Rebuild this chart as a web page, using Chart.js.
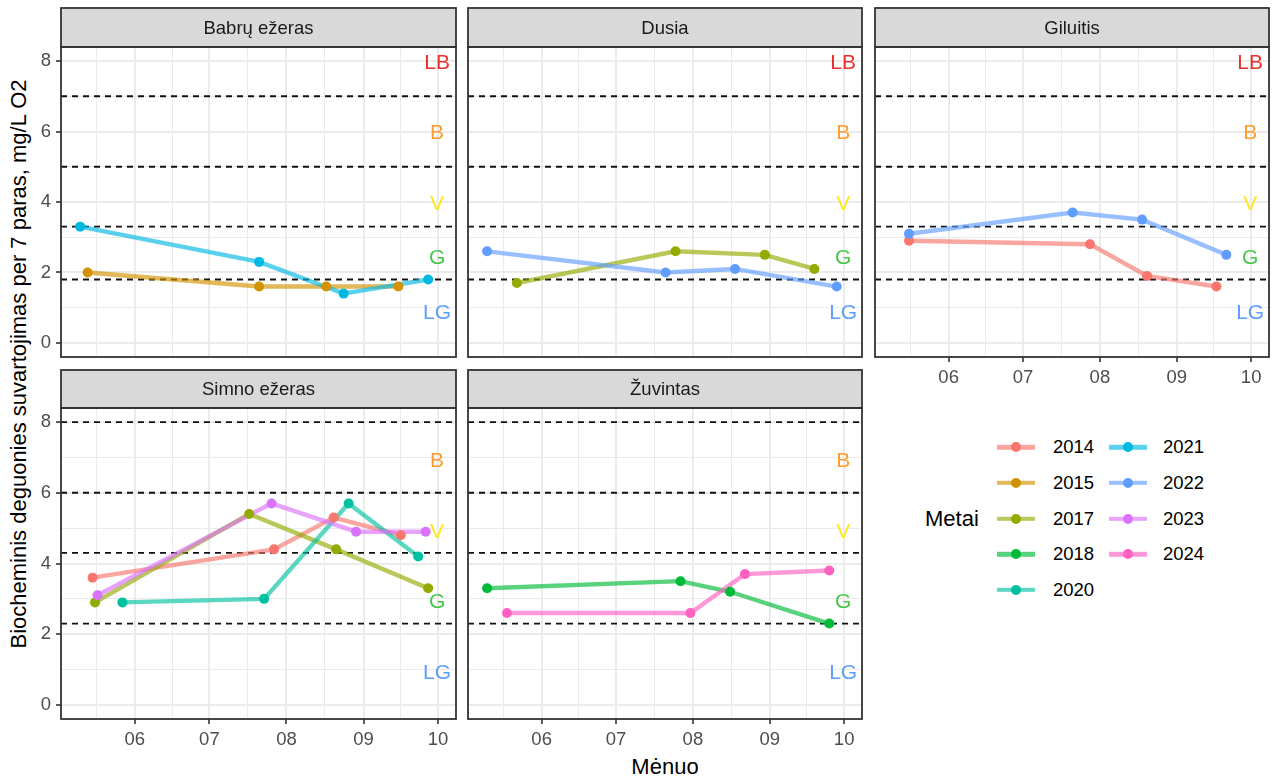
<!DOCTYPE html>
<html>
<head>
<meta charset="utf-8">
<script src="https://cdn.jsdelivr.net/npm/chart.js@4.4.1/dist/chart.umd.min.js"></script>
<style>
  body { margin: 0; background: #fff; font-family: "Liberation Sans", Arial, sans-serif; }
  #wrap { position: relative; width: 1272px; height: 776px; overflow: hidden; }
  #wrap canvas { position: absolute; }
  .axis-title { position: absolute; font-size: 22px; color: #000; white-space: nowrap; transform: translate(-50%, -50%); }
  .legend-title { position: absolute; font-size: 22px; color: #000; transform: translateY(-50%); }
  .legend-text { position: absolute; font-size: 18.5px; color: #000; transform: translateY(-50%); }
  .key-line { position: absolute; width: 38px; height: 4.4px; transform: translateY(-50%); }
  .key-dot { position: absolute; width: 10px; height: 10px; border-radius: 50%; transform: translate(-50%, -50%); }
</style>
</head>
<body>
<div id="wrap">
  <div class="axis-title" style="left:19px; top:364px; transform: translate(-50%, -50%) rotate(-90deg);">Biocheminis deguonies suvartojimas per 7 paras, mg/L O2</div>
  <div class="axis-title" style="left:665px; top:767px;">Mėnuo</div>
</div>
<script>
// month ticks (day of year, non-leap) and their labels
const monthDays = [152, 182, 213, 244, 274];
const monthLabels = ['06', '07', '08', '09', '10'];
const yLabels = ['0', '2', '4', '6', '8'];

const years = ['2014', '2015', '2017', '2018', '2020', '2021', '2022', '2023', '2024'];
const yearColors = ['#F8766D', '#D39200', '#93AA00', '#00BA38', '#00C19F', '#00B9E3', '#619CFF', '#DB72FB', '#FF61C3'];

// class limits, deep lakes (top row) and shallow lakes (bottom row)
const limitsTop = [1.8, 3.3, 5, 7];
const limitsBottom = [2.3, 4.3, 6, 8];
const classNames = ['LB', 'B', 'V', 'G', 'LG'];
const classColors = ['#E8302E', '#FF9A2E', '#FFE81A', '#45C84A', '#5C9EFF'];
const classYTop = [8, 6, 4, 2.45, 0.9];
const classYBottom = [null, 6.95, 4.95, 2.95, 0.95];

// measurements: dates (MM-DD) and BDS7 values
const babrai2015Dates = ['05-13', '07-21', '08-17', '09-15'];
const babrai2015 = [2.0, 1.6, 1.6, 1.6];
const babrai2021Dates = ['05-10', '07-21', '08-24', '09-27'];
const babrai2021 = [3.3, 2.3, 1.4, 1.8];

const dusia2017Dates = ['05-22', '07-25', '08-30', '09-19'];
const dusia2017 = [1.7, 2.6, 2.5, 2.1];
const dusia2022Dates = ['05-10', '07-21', '08-18', '09-28'];
const dusia2022 = [2.6, 2.0, 2.1, 1.6];

const giluitis2014Dates = ['05-16', '07-28', '08-20', '09-17'];
const giluitis2014 = [2.9, 2.8, 1.9, 1.6];
const giluitis2022Dates = ['05-16', '07-21', '08-18', '09-21'];
const giluitis2022 = [3.1, 3.7, 3.5, 2.5];

const simnas2014Dates = ['05-15', '07-27', '08-20', '09-16'];
const simnas2014 = [3.6, 4.4, 5.3, 4.8];
const simnas2017Dates = ['05-16', '07-17', '08-21', '09-27'];
const simnas2017 = [2.9, 5.4, 4.4, 3.3];
const simnas2020Dates = ['05-27', '07-23', '08-26', '09-23'];
const simnas2020 = [2.9, 3.0, 5.7, 4.2];
const simnas2023Dates = ['05-17', '07-26', '08-29', '09-26'];
const simnas2023 = [3.1, 5.7, 4.9, 4.9];

const zuvintas2018Dates = ['05-10', '07-27', '08-16', '09-25'];
const zuvintas2018 = [3.3, 3.5, 3.2, 2.3];
const zuvintas2024Dates = ['05-18', '07-31', '08-22', '09-25'];
const zuvintas2024 = [2.6, 2.6, 3.7, 3.8];

const panels = [
  { name: 'Babrų ežeras', col: 0, row: 0, xTicks: false, yTicks: true,
    series: [['2015', babrai2015Dates, babrai2015], ['2021', babrai2021Dates, babrai2021]] },
  { name: 'Dusia', col: 1, row: 0, xTicks: false, yTicks: false,
    series: [['2017', dusia2017Dates, dusia2017], ['2022', dusia2022Dates, dusia2022]] },
  { name: 'Giluitis', col: 2, row: 0, xTicks: true, yTicks: false,
    series: [['2014', giluitis2014Dates, giluitis2014], ['2022', giluitis2022Dates, giluitis2022]] },
  { name: 'Simno ežeras', col: 0, row: 1, xTicks: true, yTicks: true,
    series: [['2014', simnas2014Dates, simnas2014], ['2017', simnas2017Dates, simnas2017],
             ['2020', simnas2020Dates, simnas2020], ['2023', simnas2023Dates, simnas2023]] },
  { name: 'Žuvintas', col: 1, row: 1, xTicks: true, yTicks: false,
    series: [['2018', zuvintas2018Dates, zuvintas2018], ['2024', zuvintas2024Dates, zuvintas2024]] }
];

// facet grid geometry
const colLeft = [61, 468, 875];
const colRight = [457, 863, 1270];
const stripTop = [8, 370];
const panelTop = [47, 408];
const panelBottom = [357, 719];
const AX_W = 50, AX_H = 34;
const X_MIN = 122.3, X_MAX = 281.2;
const Y_MIN = -0.4, Y_MAX = 8.4;

const FONT = '"Liberation Sans", Arial, sans-serif';
Chart.defaults.font.family = FONT;

const cumDays = [0, 31, 59, 90, 120, 151, 181, 212, 243, 273, 304, 334];
const dayOfYear = s => {
  const [m, d] = s.split('-').map(Number);
  return cumDays[m - 1] + d;
};

// minor grid halfway between month starts
const monthStarts = [121, ...monthDays, 305];
const xGrid = [];
for (let i = 0; i < monthStarts.length - 1; i++) {
  const mid = (monthStarts[i] + monthStarts[i + 1]) / 2;
  if (mid > X_MIN && mid < X_MAX) xGrid.push(mid);
  if (i < monthStarts.length - 2) xGrid.push(monthStarts[i + 1]);
}
xGrid.sort((a, b) => a - b);
const isMonth = v => monthDays.includes(v);

const hexA = (hex, a) => {
  const n = parseInt(hex.slice(1), 16);
  return `rgba(${(n >> 16) & 255},${(n >> 8) & 255},${n & 255},${a})`;
};

const wrap = document.getElementById('wrap');

function makePanel(p) {
  const left = colLeft[p.col], right = colRight[p.col];
  const sTop = stripTop[p.row], top = panelTop[p.row], bottom = panelBottom[p.row];
  const limits = p.row === 0 ? limitsTop : limitsBottom;
  const classY = p.row === 0 ? classYTop : classYBottom;

  const cv = document.createElement('canvas');
  const w = AX_W + (right - left) + 4;
  const h = (bottom - sTop + 1) + AX_H;
  cv.width = w; cv.height = h;
  cv.style.width = w + 'px'; cv.style.height = h + 'px';
  cv.style.left = (left - AX_W) + 'px';
  cv.style.top = (sTop - 1) + 'px';
  wrap.appendChild(cv);

  const datasets = [];
  p.series.forEach(([year, dates, vals]) => {
    const idx = years.indexOf(year);
    const pts = dates.map((d, i) => ({ x: dayOfYear(d), y: vals[i] }));
    datasets.push({ data: pts, borderColor: hexA(yearColors[idx], 0.65), borderWidth: 4.4,
      pointRadius: 0, tension: 0, order: 100 - idx });
    datasets.push({ data: pts, showLine: false, pointRadius: 5, pointBackgroundColor: yearColors[idx],
      pointBorderWidth: 0, order: 50 - idx });
  });

  const decor = {
    id: 'decor',
    beforeDatasetsDraw(chart) {
      const { ctx, chartArea: a, scales: { y } } = chart;
      ctx.save();
      ctx.strokeStyle = '#111111';
      ctx.lineWidth = 1.9;
      ctx.setLineDash([6, 5]);
      limits.forEach(v => {
        const py = y.getPixelForValue(v);
        ctx.beginPath();
        ctx.moveTo(a.left, py);
        ctx.lineTo(a.right, py);
        ctx.stroke();
      });
      ctx.restore();
    },
    afterDatasetsDraw(chart) {
      const { ctx, scales: { x, y } } = chart;
      ctx.save();
      ctx.font = '21px ' + FONT;
      ctx.textAlign = 'center';
      ctx.textBaseline = 'middle';
      classNames.forEach((c, i) => {
        if (classY[i] == null || classY[i] > Y_MAX) return;
        ctx.fillStyle = classColors[i];
        ctx.fillText(c, x.getPixelForValue(monthDays[monthDays.length - 1]) - 1, y.getPixelForValue(classY[i]) + 2);
      });
      ctx.restore();
    },
    afterDraw(chart) {
      const { ctx, chartArea: a } = chart;
      ctx.save();
      ctx.fillStyle = '#D9D9D9';
      ctx.fillRect(a.left, 1, a.right - a.left, a.top - 1);
      ctx.strokeStyle = '#333333';
      ctx.lineWidth = 1.8;
      ctx.strokeRect(a.left, 1, a.right - a.left, a.top - 1);
      ctx.strokeRect(a.left, a.top, a.right - a.left, a.bottom - a.top);
      ctx.fillStyle = '#1A1A1A';
      ctx.font = '18.5px ' + FONT;
      ctx.textAlign = 'center';
      ctx.textBaseline = 'middle';
      ctx.fillText(p.name, (a.left + a.right) / 2, (1 + a.top) / 2 + 1);
      ctx.restore();
    }
  };

  new Chart(cv, {
    type: 'line',
    data: { datasets },
    plugins: [decor],
    options: {
      responsive: false,
      animation: false,
      events: [],
      layout: { padding: { left: 0, right: 4, top: top - sTop + 1, bottom: 0 } },
      plugins: { legend: { display: false }, tooltip: { enabled: false } },
      scales: {
        x: {
          type: 'linear', min: X_MIN, max: X_MAX,
          afterBuildTicks: sc => { sc.ticks = xGrid.map(v => ({ value: v })); },
          afterFit: sc => { sc.height = AX_H; },
          border: { display: false },
          grid: {
            color: '#EBEBEB',
            lineWidth: c => (c.tick && isMonth(c.tick.value) ? 2 : 1),
            drawTicks: p.xTicks, tickLength: 5, tickWidth: 1.6,
            tickColor: c => (c.tick && isMonth(c.tick.value) ? '#333333' : 'rgba(0,0,0,0)')
          },
          ticks: {
            display: p.xTicks, autoSkip: false, maxRotation: 0, padding: 5,
            color: '#4D4D4D', font: { size: 18.5 },
            callback: v => { const i = monthDays.indexOf(v); return i >= 0 ? monthLabels[i] : ''; }
          }
        },
        y: {
          min: Y_MIN, max: Y_MAX,
          afterBuildTicks: sc => { sc.ticks = [0, 1, 2, 3, 4, 5, 6, 7, 8].map(v => ({ value: v })); },
          afterFit: sc => { sc.width = AX_W; },
          border: { display: false },
          grid: {
            color: '#EBEBEB',
            lineWidth: c => (c.tick && c.tick.value % 2 === 0 ? 2 : 1),
            drawTicks: p.yTicks, tickLength: 5, tickWidth: 1.6,
            tickColor: c => (c.tick && c.tick.value % 2 === 0 ? '#333333' : 'rgba(0,0,0,0)')
          },
          ticks: {
            display: p.yTicks, autoSkip: false, padding: 5,
            color: '#4D4D4D', font: { size: 18.5 },
            callback: v => (v % 2 === 0 ? yLabels[v / 2] : '')
          }
        }
      }
    }
  });
}

panels.forEach(makePanel);

// legend for years, filled column by column
const legTitle = document.createElement('div');
legTitle.className = 'legend-title';
legTitle.style.left = '925px';
legTitle.style.top = '519px';
legTitle.textContent = 'Metai';
wrap.appendChild(legTitle);

const keyLeft = [997, 1109], textLeft = [1053, 1163];
years.forEach((yr, i) => {
  const col = i < 5 ? 0 : 1, row = i % 5;
  const cy = 447.3 + row * 35.7;
  const line = document.createElement('div');
  line.className = 'key-line';
  line.style.left = keyLeft[col] + 'px';
  line.style.top = cy + 'px';
  line.style.background = hexA(yearColors[i], 0.65);
  const dot = document.createElement('div');
  dot.className = 'key-dot';
  dot.style.left = (keyLeft[col] + 19) + 'px';
  dot.style.top = cy + 'px';
  dot.style.background = yearColors[i];
  const txt = document.createElement('div');
  txt.className = 'legend-text';
  txt.style.left = textLeft[col] + 'px';
  txt.style.top = cy + 'px';
  txt.textContent = yr;
  wrap.append(line, dot, txt);
});
</script>
</body>
</html>
